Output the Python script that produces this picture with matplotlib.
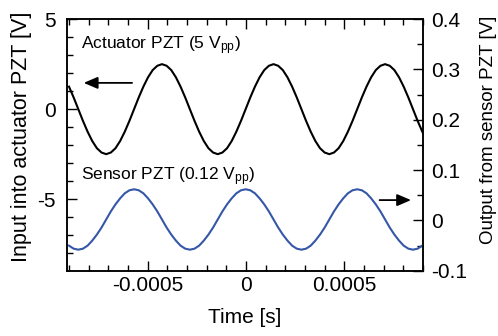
import numpy as np
import matplotlib.pyplot as plt
from matplotlib.ticker import MultipleLocator

plt.rcParams['font.family'] = ['Liberation Sans', 'DejaVu Sans']
plt.rcParams['mathtext.fontset'] = 'custom'
plt.rcParams['mathtext.rm'] = 'Liberation Sans'
plt.rcParams['mathtext.it'] = 'Liberation Sans'
plt.rcParams['axes.unicode_minus'] = False

# time samples (s), one every 1/24 of a period
time = np.linspace(-0.000901, 0.000921, 78)

# actuator drive voltage [V] (left axis)
actuator = [1.25, 0.65, 0, -0.65, -1.25, -1.77, -2.17, -2.41, -2.5, -2.41, -2.17, -1.77,
            -1.25, -0.65, 0, 0.65, 1.25, 1.77, 2.17, 2.41,
            2.5, 2.41, 2.17, 1.77, 1.25, 0.65, 0, -0.65, -1.25, -1.77, -2.17, -2.41,
            -2.5, -2.41, -2.17, -1.77, -1.25, -0.65, 0, 0.65, 1.25, 1.77, 2.17, 2.41,
            2.5, 2.41, 2.17, 1.77, 1.25, 0.65, 0, -0.65, -1.25, -1.77, -2.17, -2.41,
            -2.5, -2.41, -2.17, -1.77, -1.25, -0.65, 0, 0.65, 1.25, 1.77, 2.17, 2.41,
            2.5, 2.41, 2.17, 1.77, 1.25, 0.65, 0, -0.65, -1.25, -1.77]

# sensor output voltage [V] (right axis)
sensor = [-0.050, -0.056, -0.058, -0.056, -0.050, -0.040, -0.028, -0.014, 0.002, 0.018,
          0.032, 0.044, 0.054, 0.060,
          0.062, 0.060, 0.054, 0.044, 0.032, 0.018, 0.002, -0.014, -0.028, -0.040, -0.050, -0.056,
          -0.058, -0.056, -0.050, -0.040, -0.028, -0.014, 0.002, 0.018, 0.032, 0.044, 0.054, 0.060,
          0.062, 0.060, 0.054, 0.044, 0.032, 0.018, 0.002, -0.014, -0.028, -0.040, -0.050, -0.056,
          -0.058, -0.056, -0.050, -0.040, -0.028, -0.014, 0.002, 0.018, 0.032, 0.044, 0.054, 0.060,
          0.062, 0.060, 0.054, 0.044, 0.032, 0.018, 0.002, -0.014, -0.028, -0.040, -0.050, -0.056,
          -0.058, -0.056, -0.050, -0.040]

xticks = [-0.0005, 0, 0.0005]
xtick_labels = ['-0.0005', '0', '0.0005']
left_ticks = [-5, 0, 5]
left_labels = ['-5', '0', '5']
right_ticks = [-0.1, 0, 0.1, 0.2, 0.3, 0.4]
right_labels = ['-0.1', '0', '0.1', '0.2', '0.3', '0.4']

fig = plt.figure(figsize=(4.98, 3.36), dpi=100)
ax = fig.add_axes([0.135, 0.194, 0.714, 0.749])
ax2 = ax.twinx()

ax.plot(time, actuator, color='black', lw=1.5)
ax2.plot(time, sensor, color='#3557a8', lw=1.5)

ax.set_xlim(-0.00091, 0.0009)
ax.set_ylim(-8.98, 5)
ax2.set_ylim(-0.1, 0.4)

ax.set_xticks(xticks)
ax.set_xticklabels(xtick_labels)
ax.xaxis.set_minor_locator(MultipleLocator(0.0001))
ax.set_yticks(left_ticks)
ax.set_yticklabels(left_labels)
ax.yaxis.set_minor_locator(MultipleLocator(1))
ax2.set_yticks(right_ticks)
ax2.set_yticklabels(right_labels)
ax2.yaxis.set_minor_locator(MultipleLocator(0.05))

ax.tick_params(axis='x', which='both', direction='in', top=True, labelsize=15, pad=4, width=1)
ax.tick_params(axis='y', which='both', direction='in', right=False, labelsize=15, pad=8, width=1)
ax2.tick_params(axis='y', which='both', direction='in', labelsize=15, pad=6, width=1)
for a in (ax, ax2):
    a.tick_params(which='major', length=7)
    a.tick_params(which='minor', length=4)
    for s in a.spines.values():
        s.set_linewidth(1.1)

ax.set_xlabel('Time [s]', fontsize=15, labelpad=9)
ax.set_ylabel('Input into actuator PZT [V]', fontsize=15.5)
ax.yaxis.set_label_coords(-0.099, 0.533)
ax2.set_ylabel('Output from sensor PZT [V]', fontsize=13.5)
ax2.yaxis.set_label_coords(1.161, 0.559)

ax.text(0.039, 0.881, r'Actuator PZT (5 V$_{\mathrm{pp}}$)', transform=ax.transAxes,
        fontsize=12.5, va='baseline', ha='left')
ax.text(0.039, 0.36, r'Sensor PZT (0.12 V$_{\mathrm{pp}}$)', transform=ax.transAxes,
        fontsize=12.5, va='baseline', ha='left')

arrow = dict(arrowstyle='-|>,head_length=0.7,head_width=0.3', color='black', lw=1.3,
             mutation_scale=12, shrinkA=0, shrinkB=0)
ax.annotate('', xy=(-0.000826, 1.46), xytext=(-0.00058, 1.46), arrowprops=arrow)
ax2.annotate('', xy=(0.00084, 0.0405), xytext=(0.00068, 0.0405), arrowprops=arrow)

fig.savefig('out.png', dpi=100)
